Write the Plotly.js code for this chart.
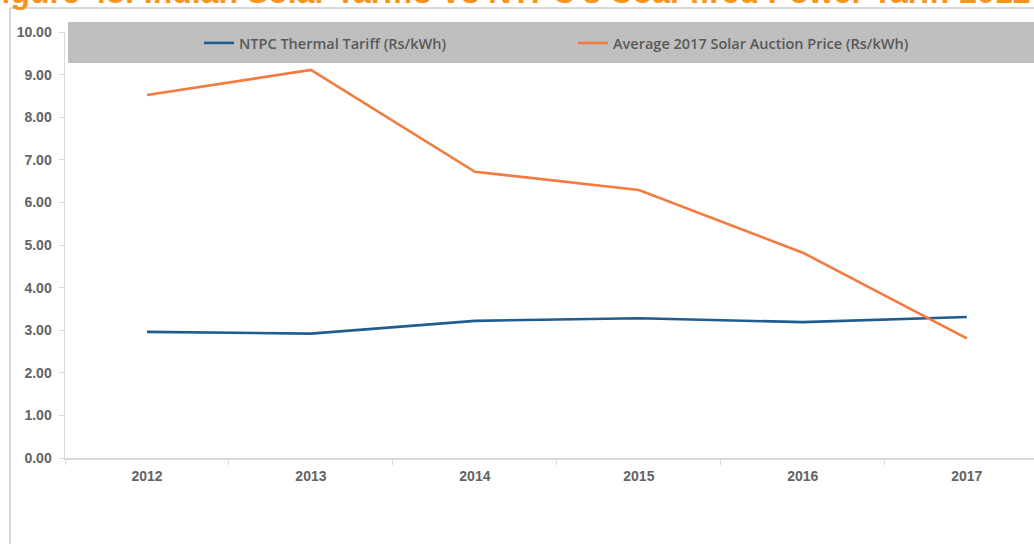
<!DOCTYPE html>
<html>
<head>
<meta charset="utf-8">
<script src="https://cdn.plot.ly/plotly-3.0.1.min.js"></script>
<style>html,body{margin:0;padding:0;background:#fff;overflow:hidden}</style>
</head>
<body>
<div id="chart" style="width:1034px;height:544px"></div>
<script>
const years = ["2012", "2013", "2014", "2015", "2016", "2017"];
const ntpcTariff = [2.96, 2.92, 3.22, 3.28, 3.19, 3.31];
const solarAuction = [8.52, 9.11, 6.72, 6.29, 4.82, 2.81];
const yTicks = [0, 1, 2, 3, 4, 5, 6, 7, 8, 9, 10];
const yTickLabels = yTicks.map(v => v.toFixed(2));
const seriesNames = ["NTPC Thermal Tariff (Rs/kWh)", "Average 2017 Solar Auction Price (Rs/kWh)"];
const titleText = "Figure 48: Indian Solar Tariffs Vs NTPC's Coal-fired Power Tariff 2012-2017";

const W = 1034, H = 544;
const L = 65, T = 32, B = 86, R = 0;
const pw = W - L - R, ph = H - T - B;
const px = x => (x - L) / pw;
const py = y => (H - B - y) / ph;

const tickFont = {family: "Liberation Sans, Arial, sans-serif", size: 14, color: "#636363", weight: "bold"};

const traces = [
  {x: years, y: ntpcTariff, name: seriesNames[0], type: "scatter", mode: "lines",
   line: {color: "#1F5D91", width: 2.6}},
  {x: years, y: solarAuction, name: seriesNames[1], type: "scatter", mode: "lines",
   line: {color: "#F47A3E", width: 2.6}}
];

const layout = {
  width: W, height: H,
  margin: {l: L, r: R, t: T, b: B},
  paper_bgcolor: "#ffffff", plot_bgcolor: "rgba(0,0,0,0)",
  showlegend: true,
  hovermode: false,
  xaxis: {
    type: "category", range: [-0.5, 5.41],
    showgrid: false, zeroline: false,
    showline: true, linecolor: "#D9D9D9", linewidth: 1.5,
    ticks: "outside", tickson: "boundaries", ticklen: 5, tickcolor: "#D9D9D9",
    ticklabelstandoff: 5,
    tickfont: tickFont,
    fixedrange: true
  },
  yaxis: {
    range: [0, 10], tickvals: yTicks, ticktext: yTickLabels,
    showgrid: false, zeroline: false,
    showline: true, linecolor: "#D9D9D9", linewidth: 1.5,
    ticks: "outside", ticklen: 5, tickcolor: "#D9D9D9",
    ticklabelstandoff: 4,
    tickfont: tickFont,
    fixedrange: true
  },
  legend: {
    orientation: "h", x: px(199), xanchor: "left", y: py(43), yanchor: "middle",
    bgcolor: "rgba(0,0,0,0)", borderwidth: 0,
    entrywidth: 329, entrywidthmode: "pixels", itemwidth: 30,
    font: {family: "Open Sans, sans-serif", size: 14.5, color: "#595959", weight: 600}
  },
  shapes: [
    {type: "rect", xref: "paper", yref: "paper", x0: px(68), x1: px(1040), y0: py(63), y1: py(22),
     fillcolor: "#BFBFBF", line: {width: 0}, layer: "below"},
    {type: "line", xref: "paper", yref: "paper", x0: px(10), x1: px(1040), y0: py(8), y1: py(8),
     line: {color: "#D9D9D9", width: 2}},
    {type: "line", xref: "paper", yref: "paper", x0: px(10), x1: px(10), y0: py(8), y1: py(550),
     line: {color: "#D9D9D9", width: 2}}
  ],
  annotations: [
    {text: titleText, xref: "paper", yref: "paper", x: px(-20), y: py(12), xanchor: "left", yanchor: "bottom",
     showarrow: false, font: {family: "Liberation Sans, Arial, sans-serif", size: 32, color: "#F7941D", weight: "bold"}}
  ]
};

Plotly.newPlot("chart", traces, layout, {displayModeBar: false, staticPlot: true});
</script>
</body>
</html>
